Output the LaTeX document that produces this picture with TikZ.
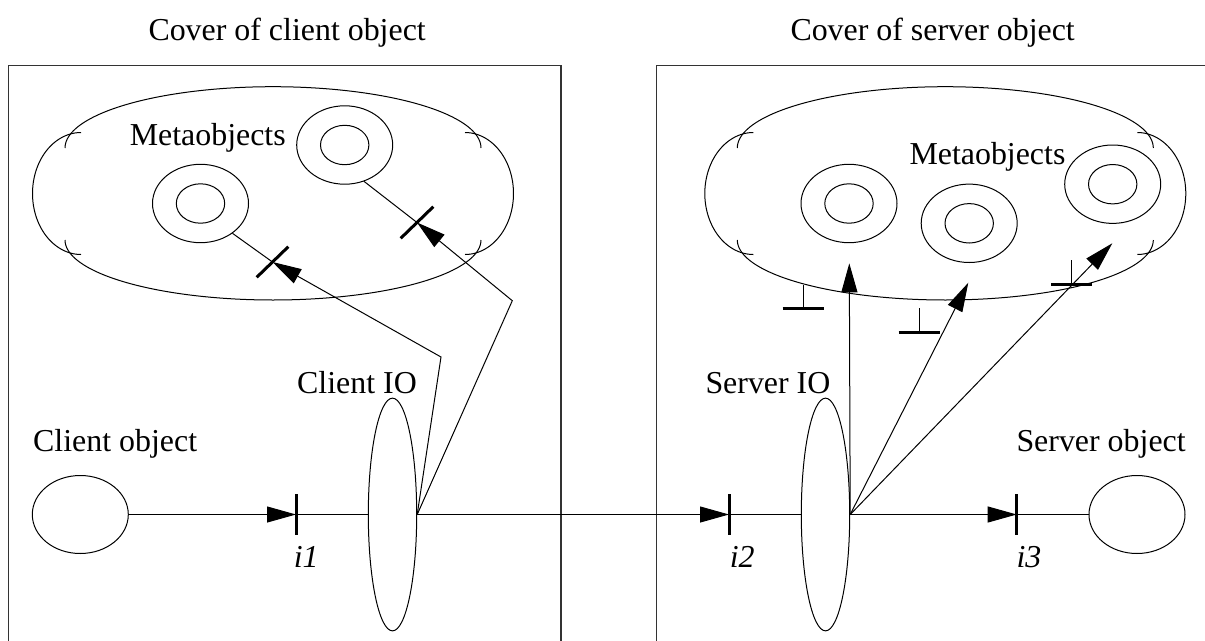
\documentclass[tikz,border=0pt]{standalone}
\usepackage{fontspec}
\setmainfont{Liberation Serif}
\usetikzlibrary{shapes.geometric,arrows.meta}
\newcommand\mycloud[1]{%
  \draw plot[domain=0:180,samples=90,smooth] ({#1+208*cos(\x)},{148-61.3*sin(\x)});
  \draw plot[domain=0:180,samples=90,smooth] ({#1+208*cos(\x)},{240+60*sin(\x)});
  \draw plot[domain=0:180,samples=60,smooth] ({#1-192-48.5*sin(\x)},{193.5-61*cos(\x)});
  \draw plot[domain=0:180,samples=60,smooth] ({#1+192+48.5*sin(\x)},{193.5-61*cos(\x)});
}
\begin{document}
\begin{tikzpicture}[x=1pt,y=-1pt,line width=1pt,
  lbl/.style={inner sep=0pt,font=\fontsize{31.9}{38}\selectfont},
  obj/.style={draw,ellipse,inner sep=0pt,minimum width=96pt,minimum height=78pt},
  io/.style={draw,ellipse,inner sep=0pt,minimum width=48.4pt,minimum height=232.7pt},
  outerc/.style={draw,ellipse,inner sep=0pt,minimum width=96pt,minimum height=78.4pt},
  innerc/.style={draw,ellipse,inner sep=0pt,minimum width=48.4pt,minimum height=39.4pt},
  cover/.style={line width=1.3pt,black!80},
  bar/.style={line width=3pt},
  arr/.style={-{Triangle[length=29pt,width=16pt]}},
]
\useasboundingbox (0,0) rectangle (1205,640);
% cover boxes
\draw[cover] (8.3,650) -- (8.3,65.7) -- (561,65.7) -- (561,650);
\draw[cover] (656.7,650) -- (656.7,65.7) -- (1215,65.7);
\node[lbl,anchor=base west] (tcl) at (148,40) {Cover of client object};
\node[lbl,anchor=base west] (tsv) at (790,40) {Cover of server object};
% clouds
\mycloud{273}
\mycloud{945.3}
\node[lbl,anchor=base west] (lm1) at (129.3,145) {Metaobjects};
\node[lbl,anchor=base west] (lm2) at (909,164) {Metaobjects};
% metaobjects left
\node[outerc] (mA) at (200.5,203.5) {};
\node[innerc] (mAi) at (200.5,203.5) {};
\node[outerc] (mB) at (344.7,145) {};
\node[innerc] (mBi) at (344.7,145) {};
% metaobjects right
\node[outerc] (mC) at (849,203.5) {};
\node[innerc] (mCi) at (849,203.5) {};
\node[outerc] (mD) at (969.2,223.3) {};
\node[innerc] (mDi) at (969.2,223.3) {};
\node[outerc] (mE) at (1112.7,184.2) {};
\node[innerc] (mEi) at (1112.7,184.2) {};
% objects and IOs
\node[obj] (cobj) at (80.3,514.5) {};
\node[io] (cio) at (392.5,514.5) {};
\node[io] (sio) at (825.5,514.5) {};
\node[obj] (sobj) at (1137,514.5) {};
\node[lbl,anchor=base west] (lco) at (32.7,451.7) {Client object};
\node[lbl,anchor=base west] (lcio) at (296.7,393.3) {Client IO};
\node[lbl,anchor=base west] (lsio) at (705,393.3) {Server IO};
\node[lbl,anchor=base west] (lso) at (1016,451.7) {Server object};
% interfaces on main line
\coordinate (i1) at (296,514.5);
\coordinate (i2) at (729,514.5);
\coordinate (i3) at (1016.7,514.5);
\draw[arr] (cobj) -- (i1);
\draw (i1) -- (cio);
\draw[arr] (cio.east) -- (i2);
\draw (i2) -- (sio);
\draw[arr] (sio.east) -- (i3);
\draw (i3) -- (sobj);
\draw[bar] (i1) ++(0,-20.5) -- ++(0,41);
\draw[bar] (i2) ++(0,-20.5) -- ++(0,41);
\draw[bar] (i3) ++(0,-20.5) -- ++(0,41);
\node[lbl,anchor=base west] (li1) at (293.3,567.7) {\itshape i1};
\node[lbl,anchor=base west] (li2) at (729.3,567.7) {\itshape i2};
\node[lbl,anchor=base west] (li3) at (1016,567.7) {\itshape i3};
% client meta links
\coordinate (k1) at (441,357);
\coordinate (k2) at (512.3,300.7);
\coordinate (bA) at (272.5,262);
\coordinate (bB) at (417,222.5);
\draw[arr] (cio.east) -- (k1) -- (bA);
\draw[arr] (cio.east) -- (k2) -- (bB);
\draw (bA) -- (mA.-43);
\draw (bB) -- (mB.-62);
\draw[bar] (bA) ++(-15.8,15.3) -- ++(31.6,-30.6);
\draw[bar] (bB) ++(-16.3,15.8) -- ++(32.6,-31.6);
% server meta links
\coordinate (tC) at (849.3,263.3);
\coordinate (tD) at (968.3,282.7);
\coordinate (tE) at (1112.3,243.3);
\draw[arr] (sio.east) -- (tC);
\draw[arr] (sio.east) -- (tD);
\draw[arr] (sio.east) -- (tE);
% blocked symbols
\coordinate (p1) at (803.3,308.3);
\coordinate (p2) at (919,332.3);
\coordinate (p3) at (1071.7,284.3);
\draw (p1) -- ++(0,-23.3);
\draw (p2) -- ++(0,-24);
\draw (p3) -- ++(0,-24.3);
\draw[bar] (p1) ++(-20.6,0) -- ++(41.3,0);
\draw[bar] (p2) ++(-20.5,0) -- ++(41,0);
\draw[bar] (p3) ++(-20.3,0) -- ++(40.6,0);
\end{tikzpicture}
\end{document}
